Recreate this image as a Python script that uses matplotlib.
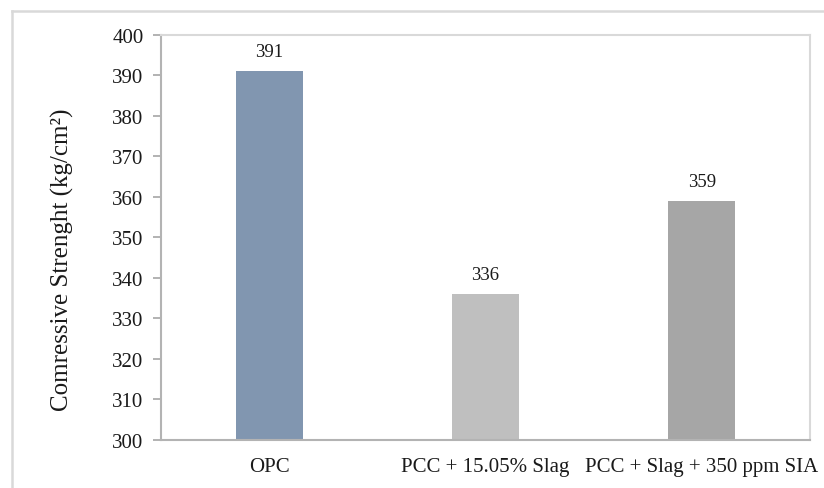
import matplotlib
matplotlib.use("Agg")
import matplotlib.pyplot as plt
from matplotlib.lines import Line2D

# Compressive strength by mix
categories = ["OPC", "PCC + 15.05% Slag", "PCC + Slag + 350 ppm SIA"]
strength = [391, 336, 359]
bar_colors = ["#8196b0", "#bfbfbf", "#a6a6a6"]
y_ticks = [300, 310, 320, 330, 340, 350, 360, 370, 380, 390, 400]

plt.rcParams["font.family"] = ["Liberation Serif", "DejaVu Serif"]

fig = plt.figure(figsize=(8.24, 4.89), dpi=100)
ax = fig.add_axes([161 / 824, 1 - 441 / 489, (810 - 161) / 824, (441 - 36) / 489])

x = range(len(categories))
bars = ax.bar(x, strength, width=0.31, color=bar_colors, zorder=2)

for rect, val in zip(bars, strength):
    ax.annotate(str(val), xy=(rect.get_x() + rect.get_width() / 2, val),
                xytext=(0, 8), textcoords="offset points",
                ha="center", va="bottom", fontsize=13.5, color="#1a1a1a")

ax.set_xlim(-0.5, len(categories) - 0.5)
ax.set_ylim(300, 400)
ax.set_yticks(y_ticks)
ax.set_xticks(list(x))
ax.set_xticklabels(categories)

ax.tick_params(axis="y", direction="out", length=5.5, width=1.2,
               color="#a6a6a6", pad=7, labelsize=15, labelcolor="#1a1a1a")
ax.tick_params(axis="x", length=0, pad=12, labelsize=15, labelcolor="#1a1a1a")

for side in ["left", "bottom"]:
    ax.spines[side].set_color("#b3b3b3")
    ax.spines[side].set_linewidth(1.5)
for side in ["top", "right"]:
    ax.spines[side].set_color("#d9d9d9")
    ax.spines[side].set_linewidth(1.5)

ax.set_ylabel("Comressive Strenght (kg/cm²)", fontsize=18, color="#1a1a1a")
ax.yaxis.set_label_coords(74 / 824, 1 - 260 / 489, transform=fig.transFigure)

# Outer chart frame
fig.add_artist(Line2D([12 / 824, 12 / 824], [0, 1 - 12 / 489],
                      transform=fig.transFigure, color="#d9d9d9", lw=1.8))
fig.add_artist(Line2D([12 / 824, 1], [1 - 12 / 489, 1 - 12 / 489],
                      transform=fig.transFigure, color="#d9d9d9", lw=1.8))

fig.savefig("out.png", dpi=100)
